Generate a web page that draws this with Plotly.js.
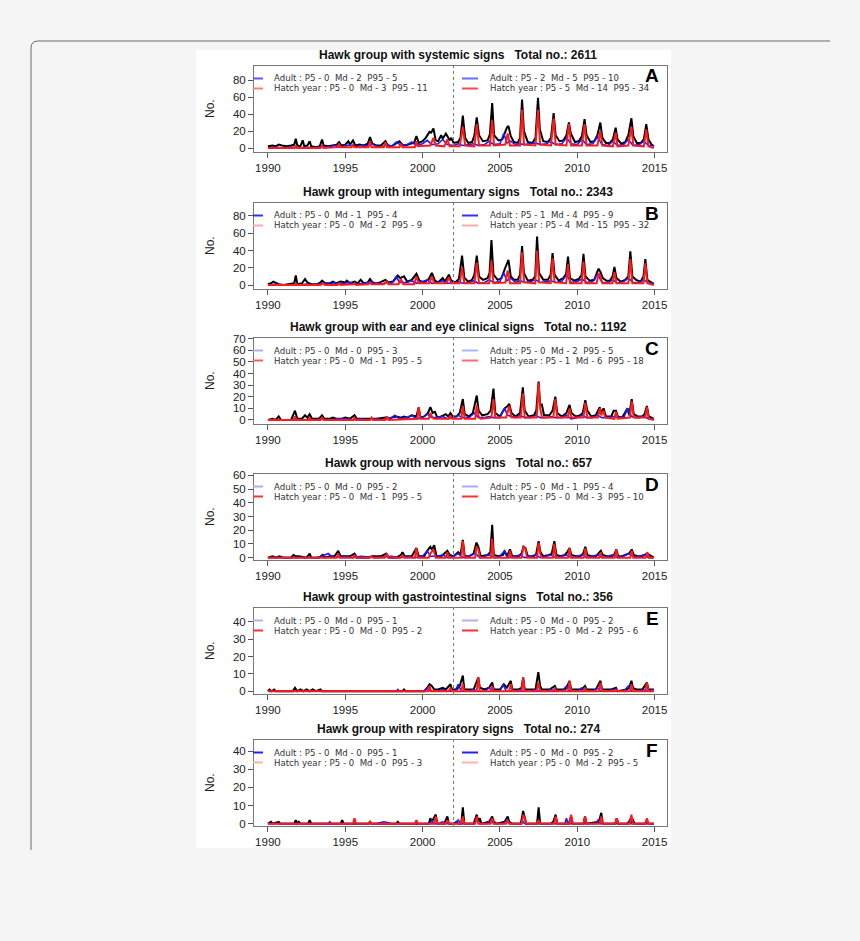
<!DOCTYPE html>
<html><head><meta charset="utf-8">
<script src="https://cdn.plot.ly/plotly-3.0.1.min.js"></script>
<style>html,body{margin:0;padding:0;background:#f5f5f5}#chart{width:860px;height:941px}</style>
</head><body><div id="chart"></div><script>
// ---------- DATA ----------
const panelNames = ["systemic", "integumentary", "ear and eye clinical", "nervous", "gastrointestinal", "respiratory"];
const panelTotals = [2611, 2343, 1192, 657, 356, 274];
const panelLetters = ["A", "B", "C", "D", "E", "F"];
const xTicks = [1990, 1995, 2000, 2005, 2010, 2015];
const yTicksA = [0, 20, 40, 60, 80];
const yTicksB = [0, 20, 40, 60, 80];
const yTicksC = [0, 10, 20, 30, 40, 50, 60, 70];
const yTicksD = [0, 10, 20, 30, 40, 50, 60];
const yTicksE = [0, 10, 20, 30, 40];
const yTicksF = [0, 10, 20, 30, 40];
const splitYear = 2002;
// legend stats [P5, Md, P95]: before split / after split
const adultBefore = [[0,2,5],[0,1,4],[0,0,3],[0,0,2],[0,0,1],[0,0,1]];
const hatchBefore = [[0,3,11],[0,2,9],[0,1,5],[0,1,5],[0,0,2],[0,0,3]];
const adultAfter  = [[2,5,10],[1,4,9],[0,2,5],[0,1,4],[0,0,2],[0,0,2]];
const hatchAfter  = [[5,14,34],[4,15,32],[1,6,18],[0,3,10],[0,2,6],[0,2,5]];

// Series as [year, count] points
const A_total = [[1990.0,2],[1990.3,3],[1990.5,2],[1990.7,4],[1990.9,3],[1991.2,2],[1991.5,3],[1991.7,4],[1991.8,11],[1991.9,3],[1992.1,2],[1992.25,9],[1992.35,2],[1992.55,3],[1992.7,8],[1992.8,2],[1993.1,1],[1993.35,2],[1993.5,10],[1993.6,3],[1993.9,2],[1994.2,3],[1994.45,4],[1994.6,7],[1994.75,3],[1995.0,4],[1995.2,8],[1995.3,4],[1995.5,9],[1995.65,3],[1995.9,4],[1996.2,3],[1996.45,5],[1996.6,13],[1996.75,5],[1997.0,3],[1997.3,3],[1997.6,8],[1997.75,3],[1998.0,2],[1998.3,5],[1998.5,8],[1998.7,4],[1998.9,3],[1999.2,5],[1999.45,6],[1999.6,14],[1999.75,6],[2000.0,8],[2000.2,12],[2000.45,19],[2000.55,18],[2000.7,23],[2000.85,9],[2001.0,8],[2001.2,15],[2001.3,11],[2001.5,17],[2001.6,14],[2001.75,9],[2001.85,12],[2002.0,6],[2002.3,7],[2002.45,12],[2002.6,38],[2002.75,12],[2002.95,6],[2003.2,7],[2003.35,15],[2003.5,36],[2003.65,15],[2003.9,8],[2004.2,9],[2004.35,16],[2004.5,53],[2004.62,15],[2004.9,9],[2005.15,10],[2005.3,17],[2005.45,24],[2005.55,26],[2005.7,14],[2005.9,7],[2006.15,6],[2006.3,12],[2006.43,57],[2006.55,20],[2006.8,7],[2007.1,6],[2007.3,12],[2007.46,59],[2007.58,22],[2007.8,8],[2008.1,7],[2008.3,12],[2008.47,41],[2008.6,15],[2008.85,8],[2009.1,9],[2009.3,15],[2009.46,30],[2009.58,17],[2009.85,7],[2010.1,8],[2010.3,14],[2010.47,34],[2010.6,15],[2010.85,7],[2011.1,8],[2011.3,15],[2011.49,30],[2011.62,12],[2011.85,6],[2012.1,6],[2012.3,10],[2012.48,24],[2012.6,10],[2012.85,5],[2013.1,7],[2013.3,15],[2013.5,35],[2013.62,14],[2013.85,6],[2014.1,6],[2014.3,10],[2014.46,28],[2014.6,10],[2014.8,4],[2014.95,2]];
const A_hatch = [[1990.0,0],[1991.7,0],[1991.8,2],[1991.9,0],[1993.4,0],[1993.5,3],[1993.6,0],[1994.5,1],[1994.6,5],[1994.7,1],[1995.4,1],[1995.5,4],[1995.6,1],[1996.5,1],[1996.6,8],[1996.7,1],[1997.5,1],[1997.6,7],[1997.7,1],[1998.5,1],[1998.6,5],[1998.7,1],[1999.5,1],[1999.6,8],[1999.7,2],[2000.5,3],[2000.7,12],[2000.85,3],[2001.4,2],[2001.6,10],[2001.75,2],[2002.4,2],[2002.6,25],[2002.75,3],[2003.35,2],[2003.5,28],[2003.65,3],[2004.35,3],[2004.5,33],[2004.62,3],[2005.35,4],[2005.5,17],[2005.65,3],[2006.3,3],[2006.43,45],[2006.56,4],[2007.3,3],[2007.46,45],[2007.6,4],[2008.3,3],[2008.47,35],[2008.6,4],[2009.3,3],[2009.46,28],[2009.6,3],[2010.3,3],[2010.47,28],[2010.6,3],[2011.3,3],[2011.49,20],[2011.62,3],[2012.3,2],[2012.48,18],[2012.6,2],[2013.3,3],[2013.5,25],[2013.62,3],[2014.3,2],[2014.46,22],[2014.6,2],[2014.95,0]];
const A_adult = [[1990.0,0],[1990.5,1],[1991.0,0],[1991.5,1],[1992.0,0],[1992.5,1],[1993.0,0],[1993.5,2],[1994.0,1],[1994.3,3],[1994.6,1],[1995.0,2],[1995.3,4],[1995.6,1],[1996.0,3],[1996.3,2],[1996.7,5],[1997.0,2],[1997.3,1],[1997.7,4],[1998.0,2],[1998.3,7],[1998.6,3],[1999.0,4],[1999.3,7],[1999.6,3],[2000.0,5],[2000.3,9],[2000.6,4],[2001.0,5],[2001.3,10],[2001.6,4],[2002.0,3],[2002.3,5],[2002.6,3],[2003.0,4],[2003.3,5],[2003.6,3],[2004.0,4],[2004.3,8],[2004.6,4],[2005.0,5],[2005.25,17],[2005.45,6],[2005.7,8],[2006.0,4],[2006.3,5],[2006.6,4],[2007.0,5],[2007.3,6],[2007.6,4],[2008.0,5],[2008.25,8],[2008.6,4],[2009.0,5],[2009.3,12],[2009.6,5],[2010.0,4],[2010.3,10],[2010.6,4],[2011.0,5],[2011.3,13],[2011.6,4],[2012.0,3],[2012.3,8],[2012.6,3],[2013.0,4],[2013.3,10],[2013.6,3],[2014.0,4],[2014.3,8],[2014.6,3],[2014.95,3]];

const B_total = [[1990.0,1],[1990.2,2],[1990.35,4],[1990.5,3],[1990.7,1],[1991.0,0],[1991.5,1],[1991.7,2],[1991.8,11],[1991.9,1],[1992.2,2],[1992.4,7],[1992.55,3],[1992.8,1],[1993.2,1],[1993.4,3],[1993.5,5],[1993.7,2],[1994.0,2],[1994.2,4],[1994.4,2],[1994.7,4],[1995.0,3],[1995.1,5],[1995.3,2],[1995.6,4],[1995.8,2],[1996.0,6],[1996.2,2],[1996.45,3],[1996.6,7],[1996.8,2],[1997.1,2],[1997.4,4],[1997.6,6],[1997.8,3],[1998.1,4],[1998.4,11],[1998.55,8],[1998.8,10],[1999.0,4],[1999.3,6],[1999.6,13],[1999.8,5],[2000.1,3],[2000.4,7],[2000.6,14],[2000.8,5],[2001.0,3],[2001.3,8],[2001.45,4],[2001.7,12],[2001.85,5],[2002.1,3],[2002.35,7],[2002.55,34],[2002.7,8],[2002.95,4],[2003.2,6],[2003.35,12],[2003.5,34],[2003.65,10],[2003.9,6],[2004.2,8],[2004.33,14],[2004.45,52],[2004.58,12],[2004.85,6],[2005.1,8],[2005.3,18],[2005.45,26],[2005.55,29],[2005.7,10],[2005.9,6],[2006.15,6],[2006.3,12],[2006.43,45],[2006.55,14],[2006.8,5],[2007.1,6],[2007.28,10],[2007.4,56],[2007.53,14],[2007.8,6],[2008.1,6],[2008.28,12],[2008.4,37],[2008.53,12],[2008.8,5],[2009.1,8],[2009.28,13],[2009.4,33],[2009.53,8],[2009.8,5],[2010.1,7],[2010.28,12],[2010.4,36],[2010.53,10],[2010.8,5],[2011.1,6],[2011.28,15],[2011.38,19],[2011.5,15],[2011.65,8],[2011.9,5],[2012.1,5],[2012.28,10],[2012.4,21],[2012.53,8],[2012.8,4],[2013.1,6],[2013.3,10],[2013.43,39],[2013.56,10],[2013.8,6],[2014.1,4],[2014.28,10],[2014.4,30],[2014.53,6],[2014.8,3],[2014.95,1]];
const B_hatch = [[1990.0,0],[1991.7,0],[1991.8,2],[1991.9,0],[1993.4,0],[1993.55,2],[1993.7,0],[1994.5,0],[1994.6,2],[1994.7,0],[1995.5,1],[1995.6,2],[1995.7,0],[1996.5,1],[1996.6,3],[1996.7,1],[1997.5,1],[1997.65,4],[1997.8,1],[1998.45,1],[1998.6,7],[1998.75,1],[1999.45,1],[1999.6,10],[1999.75,2],[2000.45,2],[2000.6,10],[2000.75,2],[2001.55,2],[2001.7,9],[2001.85,2],[2002.4,2],[2002.55,20],[2002.7,2],[2003.35,2],[2003.5,26],[2003.65,2],[2004.3,2],[2004.45,28],[2004.58,2],[2005.35,3],[2005.5,17],[2005.65,2],[2006.3,2],[2006.43,38],[2006.56,3],[2007.28,2],[2007.4,40],[2007.53,3],[2008.28,2],[2008.4,31],[2008.53,3],[2009.28,2],[2009.4,24],[2009.53,2],[2010.28,2],[2010.4,27],[2010.53,2],[2011.25,2],[2011.38,14],[2011.5,10],[2011.62,2],[2012.28,2],[2012.4,15],[2012.53,2],[2013.3,2],[2013.43,30],[2013.56,2],[2014.28,2],[2014.4,25],[2014.53,2],[2014.95,0]];
const B_adult = [[1990.0,0],[1990.5,1],[1991.0,0],[1992.0,0],[1992.5,1],[1993.0,0],[1993.5,2],[1994.0,1],[1994.3,3],[1994.6,1],[1995.0,2],[1995.3,3],[1995.6,1],[1996.0,2],[1996.3,2],[1996.7,4],[1997.0,2],[1997.3,1],[1997.7,3],[1998.0,2],[1998.3,10],[1998.5,3],[1999.0,3],[1999.3,5],[1999.6,2],[2000.0,4],[2000.3,6],[2000.6,2],[2001.0,3],[2001.3,5],[2001.6,2],[2002.0,2],[2002.3,4],[2002.6,2],[2003.0,3],[2003.3,5],[2003.6,2],[2004.0,3],[2004.3,6],[2004.6,3],[2005.0,4],[2005.25,14],[2005.45,5],[2005.7,8],[2006.0,3],[2006.3,5],[2006.6,3],[2007.0,4],[2007.3,6],[2007.6,3],[2008.0,4],[2008.3,5],[2008.6,3],[2009.0,4],[2009.3,12],[2009.6,3],[2010.0,4],[2010.3,7],[2010.6,3],[2011.0,4],[2011.3,13],[2011.6,3],[2012.0,3],[2012.3,6],[2012.6,2],[2013.0,4],[2013.3,8],[2013.6,3],[2014.0,3],[2014.3,6],[2014.6,2],[2014.95,2]];

const C_total = [[1990.0,0],[1990.3,1],[1990.5,0],[1990.7,3],[1990.85,0],[1991.5,0],[1991.75,8],[1991.9,1],[1992.2,1],[1992.4,4],[1992.55,2],[1992.7,5],[1992.85,1],[1993.3,1],[1993.5,4],[1993.65,1],[1994.0,1],[1994.2,2],[1994.4,1],[1994.8,1],[1995.0,2],[1995.3,1],[1995.6,4],[1995.75,1],[1996.3,1],[1996.7,1],[1997.0,1],[1997.6,2],[1997.8,1],[1998.0,2],[1998.3,3],[1998.6,2],[1998.8,3],[1999.0,2],[1999.3,4],[1999.6,3],[1999.75,11],[1999.85,2],[2000.1,3],[2000.35,6],[2000.5,11],[2000.65,6],[2000.8,7],[2000.95,2],[2001.2,3],[2001.5,5],[2001.65,3],[2001.8,6],[2001.95,3],[2002.2,3],[2002.4,6],[2002.6,18],[2002.72,5],[2003.0,3],[2003.25,6],[2003.5,21],[2003.62,8],[2003.85,4],[2004.2,5],[2004.4,8],[2004.58,27],[2004.7,6],[2005.0,3],[2005.3,10],[2005.5,12],[2005.6,14],[2005.75,6],[2006.0,3],[2006.3,6],[2006.48,28],[2006.6,8],[2006.85,3],[2007.2,4],[2007.35,8],[2007.5,33],[2007.6,12],[2007.7,14],[2007.85,4],[2008.2,4],[2008.4,8],[2008.58,20],[2008.7,6],[2009.0,3],[2009.3,6],[2009.5,13],[2009.62,6],[2009.9,3],[2010.2,4],[2010.35,6],[2010.52,17],[2010.65,8],[2010.9,3],[2011.2,4],[2011.45,11],[2011.55,6],[2011.7,10],[2011.85,3],[2012.2,3],[2012.35,8],[2012.5,8],[2012.62,3],[2012.9,2],[2013.25,10],[2013.35,4],[2013.52,18],[2013.65,5],[2013.9,3],[2014.2,3],[2014.35,5],[2014.5,12],[2014.62,3],[2014.8,2],[2014.95,1]];
const C_hatch = [[1990.0,0],[1991.65,0],[1991.75,3],[1991.85,0],[1992.6,0],[1992.7,2],[1992.8,0],[1993.4,0],[1993.5,2],[1993.6,0],[1995.5,0],[1995.6,2],[1995.7,0],[1996.6,0],[1996.7,2],[1996.8,0],[1997.6,0],[1997.7,3],[1997.8,0],[1999.65,1],[1999.75,11],[1999.85,1],[2000.4,1],[2000.5,6],[2000.6,3],[2000.75,1],[2001.7,1],[2001.8,4],[2001.9,1],[2002.5,1],[2002.6,12],[2002.72,1],[2003.4,1],[2003.5,13],[2003.62,3],[2003.75,1],[2004.45,2],[2004.58,18],[2004.7,2],[2005.4,2],[2005.6,12],[2005.75,2],[2006.35,2],[2006.48,23],[2006.6,2],[2007.38,2],[2007.5,32],[2007.6,10],[2007.72,2],[2008.45,2],[2008.58,18],[2008.7,2],[2009.38,2],[2009.5,10],[2009.62,2],[2010.4,2],[2010.52,15],[2010.65,2],[2011.35,2],[2011.45,10],[2011.55,4],[2011.7,8],[2011.8,2],[2012.4,1],[2012.5,7],[2012.62,1],[2013.4,2],[2013.52,16],[2013.65,2],[2014.4,2],[2014.5,11],[2014.62,1],[2014.95,0]];
const C_adult = [[1990.0,0],[1991.0,0],[1992.0,0],[1993.0,0],[1993.5,1],[1994.0,0],[1994.5,1],[1995.0,1],[1995.5,0],[1996.0,1],[1996.5,0],[1997.0,1],[1997.5,0],[1998.0,2],[1998.2,4],[1998.5,1],[1999.0,2],[1999.3,4],[1999.6,1],[2000.0,2],[2000.3,5],[2000.6,2],[2001.0,2],[2001.3,3],[2001.6,1],[2002.0,2],[2002.3,4],[2002.6,2],[2003.0,2],[2003.35,6],[2003.6,2],[2004.0,2],[2004.3,3],[2004.6,2],[2005.0,2],[2005.3,10],[2005.5,4],[2005.8,3],[2006.0,2],[2006.3,4],[2006.6,2],[2007.0,2],[2007.3,4],[2007.6,2],[2008.0,2],[2008.3,3],[2008.6,2],[2009.0,2],[2009.3,4],[2009.6,1],[2010.0,2],[2010.3,4],[2010.6,2],[2011.0,2],[2011.3,4],[2011.6,2],[2012.0,2],[2012.3,3],[2012.6,2],[2013.0,2],[2013.25,10],[2013.5,3],[2013.8,2],[2014.0,2],[2014.3,3],[2014.6,1],[2014.95,1]];

const D_total = [[1990.0,0],[1990.3,1],[1990.5,0],[1990.75,1],[1991.0,0],[1991.5,0],[1991.65,2],[1991.8,1],[1992.0,1],[1992.5,0],[1992.7,3],[1992.8,0],[1993.3,0],[1993.55,2],[1993.7,0],[1994.0,1],[1994.3,1],[1994.55,5],[1994.7,1],[1995.0,1],[1995.3,1],[1995.6,3],[1995.75,0],[1996.5,0],[1996.7,1],[1997.0,1],[1997.3,1],[1997.65,3],[1997.8,0],[1998.3,0],[1998.6,2],[1998.7,4],[1998.85,1],[1999.3,1],[1999.6,7],[1999.75,1],[2000.1,1],[2000.3,5],[2000.5,8],[2000.6,6],[2000.75,9],[2000.9,1],[2001.2,1],[2001.5,4],[2001.6,5],[2001.75,2],[2002.0,1],[2002.3,4],[2002.45,2],[2002.6,13],[2002.72,1],[2003.0,1],[2003.3,3],[2003.48,11],[2003.6,8],[2003.75,1],[2004.2,2],[2004.38,4],[2004.5,24],[2004.6,2],[2004.9,1],[2005.2,2],[2005.3,5],[2005.45,1],[2005.65,6],[2005.8,1],[2006.2,1],[2006.4,3],[2006.52,8],[2006.65,7],[2006.8,1],[2007.2,1],[2007.35,3],[2007.5,12],[2007.62,4],[2007.8,1],[2008.2,2],[2008.35,3],[2008.52,12],[2008.65,2],[2008.9,1],[2009.2,2],[2009.35,4],[2009.5,7],[2009.62,2],[2009.9,1],[2010.2,1],[2010.38,3],[2010.52,8],[2010.65,2],[2010.9,1],[2011.2,1],[2011.38,3],[2011.52,5],[2011.65,2],[2011.9,1],[2012.2,1],[2012.38,2],[2012.52,6],[2012.65,1],[2012.9,1],[2013.2,2],[2013.35,3],[2013.52,6],[2013.65,2],[2013.9,1],[2014.2,1],[2014.35,2],[2014.52,3],[2014.65,2],[2014.95,0]];
const D_hatch = [[1990.0,0],[1994.45,0],[1994.55,3],[1994.65,0],[1995.5,0],[1995.6,2],[1995.7,0],[1996.6,0],[1996.7,1],[1996.8,0],[1997.55,0],[1997.7,3],[1997.8,0],[1998.6,0],[1998.7,2],[1998.8,0],[1999.5,0],[1999.6,7],[1999.7,0],[2000.4,0],[2000.5,3],[2000.7,6],[2000.85,0],[2001.5,0],[2001.6,4],[2001.7,0],[2002.5,0],[2002.6,12],[2002.72,0],[2003.4,0],[2003.48,8],[2003.6,6],[2003.72,0],[2004.42,0],[2004.5,14],[2004.6,0],[2005.55,0],[2005.65,5],[2005.75,0],[2006.4,0],[2006.52,8],[2006.65,6],[2006.75,0],[2007.4,0],[2007.5,11],[2007.62,2],[2007.72,0],[2008.42,0],[2008.52,10],[2008.62,0],[2009.4,0],[2009.5,7],[2009.6,0],[2010.42,0],[2010.52,7],[2010.62,0],[2011.42,0],[2011.52,4],[2011.62,0],[2012.42,0],[2012.52,6],[2012.62,0],[2013.42,0],[2013.52,5],[2013.62,0],[2014.42,0],[2014.52,4],[2014.65,0],[2014.95,0]];
const D_adult = [[1990.0,0],[1993.0,0],[1993.5,1],[1993.9,3],[1994.2,0],[1995.0,1],[1995.5,0],[1996.0,1],[1997.0,0],[1998.0,1],[1998.5,0],[1999.0,1],[1999.5,0],[2000.0,1],[2000.3,5],[2000.5,1],[2001.0,1],[2001.3,2],[2001.6,0],[2002.0,1],[2002.3,3],[2002.6,0],[2003.0,1],[2003.4,3],[2003.7,0],[2004.0,1],[2004.3,2],[2004.6,0],[2005.0,1],[2005.3,5],[2005.5,0],[2006.0,1],[2006.3,2],[2006.6,0],[2007.0,1],[2007.3,2],[2007.6,0],[2008.0,1],[2008.3,2],[2008.6,0],[2009.0,1],[2009.3,2],[2009.6,0],[2010.0,1],[2010.3,2],[2010.6,0],[2011.0,1],[2011.3,2],[2011.6,0],[2012.0,1],[2012.3,2],[2012.6,0],[2013.0,1],[2013.3,3],[2013.6,1],[2014.0,1],[2014.3,2],[2014.6,0],[2014.95,0]];

const E_total = [[1990.0,0],[1990.1,1],[1990.25,0],[1990.4,1],[1990.5,0],[1991.6,0],[1991.75,2],[1991.9,0],[1992.1,1],[1992.3,0],[1992.5,1],[1992.7,0],[1992.9,1],[1993.1,0],[1993.4,1],[1993.5,0],[1998.7,0],[1998.8,1],[1998.9,0],[2000.1,0],[2000.3,2],[2000.45,4],[2000.6,3],[2000.75,1],[2001.0,1],[2001.3,2],[2001.5,1],[2001.8,4],[2001.9,1],[2002.2,1],[2002.4,3],[2002.6,9],[2002.7,1],[2003.0,1],[2003.3,1],[2003.6,8],[2003.7,2],[2004.0,1],[2004.3,2],[2004.5,5],[2004.6,1],[2005.0,1],[2005.25,4],[2005.45,2],[2005.7,6],[2005.8,1],[2006.2,1],[2006.4,2],[2006.5,8],[2006.6,1],[2007.0,1],[2007.3,1],[2007.48,11],[2007.6,3],[2007.7,1],[2008.2,1],[2008.55,3],[2008.65,1],[2009.2,1],[2009.3,2],[2009.5,6],[2009.6,1],[2010.0,1],[2010.3,1],[2010.5,3],[2010.6,1],[2011.2,1],[2011.5,6],[2011.6,1],[2012.2,1],[2012.5,2],[2012.6,0],[2013.2,1],[2013.35,2],[2013.5,6],[2013.6,2],[2013.8,1],[2014.2,1],[2014.5,5],[2014.6,1],[2014.95,1]];
const E_hatch = [[1990.0,0],[2000.35,0],[2000.45,3],[2000.55,0],[2001.7,0],[2001.8,2],[2001.9,0],[2002.5,0],[2002.6,4],[2002.7,0],[2003.5,0],[2003.6,8],[2003.7,0],[2004.4,0],[2004.5,3],[2004.6,0],[2005.6,0],[2005.7,4],[2005.8,0],[2006.4,0],[2006.5,8],[2006.6,0],[2007.38,0],[2007.48,5],[2007.6,0],[2008.45,0],[2008.55,2],[2008.65,0],[2009.4,0],[2009.5,6],[2009.6,0],[2010.4,0],[2010.5,2],[2010.6,0],[2011.4,0],[2011.5,5],[2011.6,0],[2012.4,0],[2012.5,1],[2012.6,0],[2013.4,0],[2013.5,4],[2013.6,0],[2014.4,0],[2014.5,5],[2014.6,0],[2014.95,0]];
const E_adult = [[1990.0,0],[1998.3,0],[1998.4,1],[1998.5,0],[2000.1,0],[2000.3,2],[2000.5,0],[2001.0,0],[2001.3,1],[2001.5,0],[2002.1,0],[2002.3,4],[2002.5,0],[2003.0,0],[2003.3,1],[2003.5,0],[2004.0,0],[2004.3,2],[2004.5,0],[2005.0,0],[2005.2,4],[2005.4,0],[2006.0,0],[2006.3,1],[2006.5,0],[2007.0,0],[2007.3,1],[2007.5,0],[2008.0,0],[2008.3,1],[2008.5,0],[2009.0,0],[2009.3,3],[2009.5,0],[2010.0,0],[2010.3,2],[2010.5,0],[2011.0,0],[2011.3,2],[2011.5,0],[2012.0,0],[2012.3,1],[2012.5,0],[2013.0,0],[2013.3,3],[2013.5,0],[2014.0,0],[2014.3,1],[2014.5,0],[2014.95,1]];

const F_total = [[1990.0,0],[1990.2,1],[1990.3,0],[1990.7,1],[1990.8,0],[1991.7,0],[1991.8,2],[1991.9,0],[1992.0,1],[1992.1,0],[1992.6,0],[1992.7,2],[1992.8,0],[1994.7,0],[1994.8,2],[1994.9,0],[1996.5,0],[1996.6,1],[1996.7,0],[1998.3,0],[1998.4,1],[1998.5,0],[2000.4,0],[2000.5,3],[2000.6,1],[2000.85,5],[2000.95,0],[2001.4,0],[2001.6,4],[2001.7,0],[2002.0,0],[2002.2,1],[2002.3,0],[2002.5,0],[2002.6,9],[2002.7,0],[2003.3,0],[2003.5,5],[2003.6,1],[2003.7,3],[2003.8,0],[2004.3,1],[2004.5,4],[2004.6,1],[2004.8,0],[2005.3,1],[2005.5,4],[2005.6,1],[2005.8,0],[2006.35,0],[2006.5,7],[2006.6,4],[2006.7,0],[2007.4,0],[2007.5,9],[2007.6,0],[2008.3,0],[2008.45,1],[2008.6,5],[2008.7,0],[2009.45,0],[2009.6,4],[2009.7,0],[2010.4,0],[2010.5,4],[2010.6,0],[2011.4,1],[2011.55,6],[2011.65,0],[2012.45,0],[2012.55,3],[2012.65,0],[2013.3,0],[2013.4,2],[2013.5,1],[2013.6,2],[2013.7,0],[2014.4,0],[2014.5,2],[2014.6,0],[2014.95,0]];
const F_hatch = [[1990.0,0],[1995.5,0],[1995.6,3],[1995.7,0],[1996.5,0],[1996.6,1],[1996.7,0],[1999.5,0],[1999.6,2],[1999.7,0],[2000.75,0],[2000.85,4],[2000.95,0],[2001.5,0],[2001.6,2],[2001.7,0],[2002.5,0],[2002.6,4],[2002.7,0],[2003.4,0],[2003.5,4],[2003.6,0],[2004.4,0],[2004.5,3],[2004.6,0],[2005.4,0],[2005.5,2],[2005.6,0],[2006.4,0],[2006.5,5],[2006.6,3],[2006.7,0],[2007.4,0],[2007.5,2],[2007.6,0],[2008.5,0],[2008.6,4],[2008.7,0],[2009.5,0],[2009.6,5],[2009.7,0],[2010.4,0],[2010.5,4],[2010.6,0],[2011.45,0],[2011.55,4],[2011.65,0],[2012.45,0],[2012.55,3],[2012.65,0],[2013.4,0],[2013.5,5],[2013.6,0],[2014.4,0],[2014.5,3],[2014.6,0],[2014.95,0]];
const F_adult = [[1990.0,0],[1993.9,0],[1994.0,1],[1994.1,0],[1997.0,0],[1997.5,1],[1998.0,0],[2000.5,0],[2000.6,2],[2000.7,0],[2001.0,0],[2001.3,1],[2001.5,0],[2002.1,0],[2002.3,2],[2002.5,0],[2003.3,0],[2003.5,2],[2003.7,0],[2004.2,0],[2004.4,2],[2004.6,0],[2005.2,0],[2005.4,2],[2005.6,0],[2006.4,0],[2006.5,1],[2006.6,0],[2009.2,0],[2009.3,3],[2009.4,0],[2011.2,0],[2011.35,2],[2011.5,0],[2013.2,0],[2013.3,1],[2013.4,0],[2014.95,0]];

// ---------- LAYOUT / STYLE ----------
const W = 860, H = 941;
const boxLeft = 254, boxRight = 667, boxH = 86;
const boxTops = [66, 203, 338, 474, 608, 740];
const yRanges = [[-4.7, 96.5], [-4.6, 95], [-3.5, 70.6], [-1.7, 61], [-1.6, 48], [-1.3, 46.2]];
const xRange = [1989.1, 2015.8];
const legAdultCol = [["#5a5aff","#6a6aff"],["#3030ff","#3030ff"],["#aab0ff","#aab4ff"],["#aaaaff","#aaaaff"],["#b0b0ff","#b0b0ff"],["#2020ff","#2020ff"]];
const legHatchCol = [["#ff7a7a","#ff4a4a"],["#ffaaaa","#ffaaaa"],["#ff5a5a","#ff6a6a"],["#ff3333","#ff3333"],["#ff3030","#ff3030"],["#ffb0b0","#ffb0b0"]];
const FONT = "Liberation Sans, Arial, Helvetica, sans-serif";
const LEGFONT = "DejaVu Sans, Verdana, sans-serif";

const px = p => p / W;
const py = p => 1 - p / H;
const nb = s => s.replace(/ /g, "\u00a0");

const seriesTotal = [A_total, B_total, C_total, D_total, E_total, F_total];
const seriesHatch = [A_hatch, B_hatch, C_hatch, D_hatch, E_hatch, F_hatch];
const seriesAdult = [A_adult, B_adult, C_adult, D_adult, E_adult, F_adult];
const yTicks = [yTicksA, yTicksB, yTicksC, yTicksD, yTicksE, yTicksF];

const traces = [];
const layout = {
  width: W, height: H,
  margin: {l: 0, r: 0, t: 0, b: 0},
  paper_bgcolor: "#f5f5f5",
  plot_bgcolor: "rgba(0,0,0,0)",
  showlegend: false,
  font: {family: FONT, color: "#222"},
  shapes: [], annotations: []
};

// page frame and figure background
layout.shapes.push({type: "path", xref: "paper", yref: "paper",
  path: `M ${px(31)} ${py(850)} L ${px(31)} ${py(48)} Q ${px(31)} ${py(41)} ${px(38)} ${py(41)} L ${px(830)} ${py(41)}`,
  line: {color: "#6a6a6a", width: 1}, layer: "below"});
layout.shapes.push({type: "rect", xref: "paper", yref: "paper",
  x0: px(196), x1: px(671), y0: py(848), y1: py(50),
  fillcolor: "#ffffff", line: {width: 0}, layer: "below"});

const fmt = (lab, s) => nb(`${lab} : P5 - ${s[0]}  Md - ${s[1]}  P95 - ${s[2]}`);

for (let i = 0; i < 6; i++) {
  const k = i === 0 ? "" : String(i + 1);
  const xa = "x" + k, ya = "y" + k;
  const top = boxTops[i], bot = top + boxH;
  const line = (data, color, width) => ({
    type: "scatter", mode: "lines", xaxis: xa, yaxis: ya,
    x: data.map(d => d[0]), y: data.map(d => d[1]),
    line: {color, width}, hoverinfo: "skip"
  });
  traces.push(line(seriesTotal[i], "#000000", 2));
  traces.push(line(seriesAdult[i], "#1a1aff", 1.6));
  traces.push(line(seriesHatch[i], "#ff1a1a", 2));

  layout["xaxis" + k] = {
    domain: [px(boxLeft), px(boxRight)], anchor: ya, range: xRange,
    tickvals: xTicks, ticktext: xTicks.map(String), ticks: "outside", ticklen: 5,
    tickcolor: "#555", showline: true, mirror: true, linecolor: "#777", linewidth: 1,
    showgrid: false, zeroline: false, tickfont: {size: 11.5, color: "#222"}
  };
  layout["yaxis" + k] = {
    domain: [py(bot), py(top)], anchor: xa, range: yRanges[i],
    tickvals: yTicks[i], ticktext: yTicks[i].map(String), ticks: "outside", ticklen: 5,
    tickcolor: "#555", showline: true, mirror: true, linecolor: "#777", linewidth: 1,
    showgrid: false, zeroline: false, tickfont: {size: 11.5, color: "#222"}
  };
  // split line
  layout.shapes.push({type: "line", xref: xa, yref: ya + " domain", x0: splitYear, x1: splitYear, y0: 0, y1: 1,
    line: {color: "#777", width: 1, dash: "dot"}});
  // title
  layout.annotations.push({xref: "paper", yref: "paper", x: px(458), y: py(top - 11),
    text: "<b>" + nb(`Hawk group with ${panelNames[i]} signs   Total no.: ${panelTotals[i]}`) + "</b>",
    showarrow: false, xanchor: "center", yanchor: "middle", font: {size: 12, color: "#111"}});
  // letter
  layout.annotations.push({xref: "paper", yref: "paper", x: px(652), y: py(top + 10),
    text: "<b>" + panelLetters[i] + "</b>", showarrow: false, xanchor: "center", yanchor: "middle",
    font: {size: 19, color: "#000"}});
  // y title
  layout.annotations.push({xref: "paper", yref: "paper", x: px(210), y: py(top + boxH / 2),
    text: "No.", textangle: -90, showarrow: false, xanchor: "center", yanchor: "middle",
    font: {size: 12, color: "#222"}});
  // legends
  const rows = [top + 12.5, top + 22.5];
  const legs = [
    {lx0: 253, lx1: 263, tx: 272, items: [[fmt("Adult", adultBefore[i]), legAdultCol[i][0]], [fmt("Hatch year", hatchBefore[i]), legHatchCol[i][0]]]},
    {lx0: 462, lx1: 478, tx: 488, items: [[fmt("Adult", adultAfter[i]), legAdultCol[i][1]], [fmt("Hatch year", hatchAfter[i]), legHatchCol[i][1]]]}
  ];
  legs.forEach(g => g.items.forEach((it, r) => {
    layout.shapes.push({type: "line", xref: "paper", yref: "paper", x0: px(g.lx0), x1: px(g.lx1),
      y0: py(rows[r]), y1: py(rows[r]), line: {color: it[1], width: 2}});
    layout.annotations.push({xref: "paper", yref: "paper", x: px(g.tx), y: py(rows[r]),
      text: it[0], showarrow: false, xanchor: "left", yanchor: "middle",
      font: {size: 8.6, color: "#333", family: LEGFONT}});
  }));
}

Plotly.newPlot("chart", traces, layout, {displayModeBar: false, staticPlot: true});
</script></body></html>
